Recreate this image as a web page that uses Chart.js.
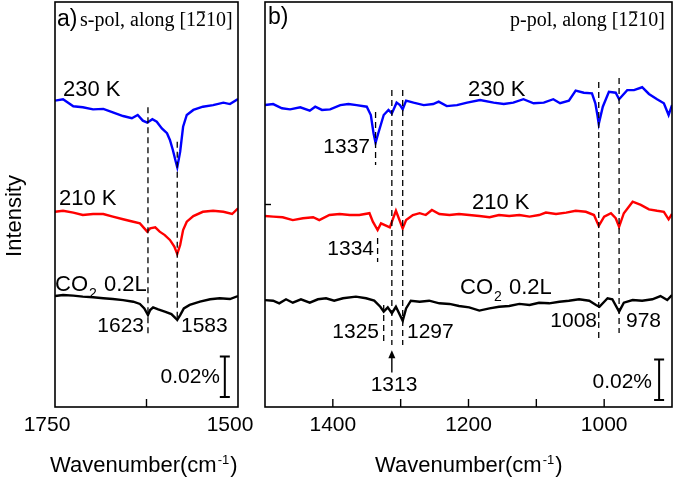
<!DOCTYPE html>
<html>
<head>
<meta charset="utf-8">
<script src="https://cdn.jsdelivr.net/npm/chart.js@4.4.0/dist/chart.umd.min.js"></script>
<style>
  html, body { margin: 0; padding: 0; background: #fff; }
  #wrap { position: relative; width: 675px; height: 480px; }
  #wrap canvas { position: absolute; left: 0; top: 0; }
</style>
</head>
<body>
<div id="wrap">
  <canvas id="chartA" width="675" height="480"></canvas>
  <canvas id="chartB" width="675" height="480"></canvas>
</div>
<script>
// intensities in units of 0.001 %, spectra already offset for stacking

// panel a) s-pol, 1750 - 1500 cm-1
const waveA230 = [1750,1739,1725,1712,1698,1684,1671,1657,1645,1637,1630,1624,1617,1611,1604,1597,1593,1589,1585,1583,1579,1575,1570,1561,1548,1534,1520,1511,1500];
const a230 = [151.3,152.0,148.5,148.0,147.0,147.2,145.5,143.7,142.6,144.2,141.4,140.4,142.1,140.9,137.6,135.2,131.9,126.9,121.1,118.4,126.1,138.4,144.2,146.7,148.3,149.1,150.3,149.6,152.1];

const waveA210 = [1750,1739,1725,1712,1698,1684,1671,1657,1643,1634,1624,1620,1613,1607,1600,1593,1587,1583,1579,1575,1570,1561,1548,1534,1520,1508,1500];
const a210 = [96.4,96.9,96.0,94.8,95.3,95.3,94.0,92.7,91.5,90.7,86.6,88.2,88.7,86.6,84.9,82.5,79.2,75.6,80.0,87.4,91.5,94.3,96.4,96.9,96.4,95.3,98.1];

const waveACO2 = [1750,1739,1725,1712,1698,1684,1671,1657,1643,1634,1628,1623,1620,1616,1609,1600,1591,1583,1579,1574,1566,1552,1538,1525,1511,1500];
const aCO2 = [54.8,55.3,55.0,54.5,54.2,53.7,53.3,52.8,52.0,50.9,48.7,45.4,47.9,49.2,48.2,47.1,45.9,43.0,45.4,48.7,50.4,52.0,53.2,53.7,53.3,54.8];

// panel b) p-pol, 1500 - 900 cm-1
const waveB230 = [1500,1488,1475,1463,1448,1434,1426,1416,1404,1389,1377,1365,1350,1344,1340,1337,1333,1325,1318,1313,1306,1301,1297,1292,1281,1266,1252,1244,1232,1217,1202,1183,1163,1148,1134,1119,1104,1089,1075,1065,1052,1042,1030,1018,1013,1010,1008,1002,993,983,978,966,956,944,934,922,912,905,900];
const b230 = [149.1,149.6,147.5,147.0,148.0,146.3,148.3,146.7,147.0,149.1,149.6,149.1,148.3,144.2,135.2,130.5,135.2,144.2,146.7,145.0,150.3,149.1,147.0,151.3,150.3,149.1,149.6,150.8,148.6,149.1,150.3,151.6,150.3,149.6,150.3,152.0,150.0,150.3,152.0,150.0,151.3,156.2,155.2,154.9,150.0,144.2,139.8,148.3,155.7,155.2,152.0,156.5,156.5,157.9,154.6,152.0,150.0,144.2,149.1];

const waveB210 = [1500,1488,1474,1459,1444,1429,1420,1405,1390,1375,1361,1346,1341,1334,1329,1316,1307,1297,1292,1282,1272,1263,1254,1243,1228,1214,1199,1184,1169,1155,1140,1125,1110,1096,1086,1071,1056,1042,1027,1015,1008,1000,990,983,978,971,958,946,934,922,912,905,900];
const b210 = [94.3,94.0,93.7,92.3,93.2,93.7,92.3,94.8,95.3,94.8,94.8,95.7,91.5,87.4,90.7,88.7,96.9,88.2,92.3,94.8,95.7,94.8,97.3,95.3,94.8,95.3,94.8,94.3,93.7,94.8,94.3,94.8,94.0,94.8,96.0,95.3,96.0,96.9,96.4,94.8,89.4,94.0,95.7,93.2,89.0,95.7,101.4,99.8,97.6,96.9,96.4,92.7,95.3];

const waveBCO2 = [1500,1488,1479,1469,1459,1447,1434,1422,1410,1398,1385,1366,1351,1339,1330,1325,1319,1313,1307,1297,1292,1285,1272,1258,1243,1228,1214,1199,1184,1169,1155,1140,1125,1110,1096,1081,1066,1052,1037,1022,1012,1007,995,988,978,971,958,944,929,917,907,900];
const bCO2 = [52.8,52.5,51.2,53.2,51.5,53.2,51.5,53.2,53.7,52.5,53.7,54.5,53.7,52.5,49.5,47.1,49.2,46.3,49.5,42.6,48.7,52.5,52.0,52.5,51.2,50.9,49.9,49.2,47.6,48.7,49.5,49.9,50.9,50.4,51.5,51.2,52.0,52.5,53.2,52.5,50.4,49.5,53.7,53.2,47.1,51.5,52.8,52.5,53.2,54.8,52.8,55.3];

// marked peaks (cm-1)
const peaksA = [1623, 1583];
const peaksB = [1337, 1334, 1325, 1313, 1297, 1008, 978];

const ticksA = [1750, 1500];
const ticksB = [1400, 1200, 1000];

const SANS = '"Liberation Sans", Arial, sans-serif';
const SERIF = '"Liberation Serif", "Times New Roman", serif';

function spectrum(waves, vals, color) {
  return {
    data: waves.map((w, i) => ({ x: w, y: vals[i] })),
    borderColor: color, borderWidth: 2.4, pointRadius: 0, tension: 0, fill: false
  };
}

function marker(w, from, to) {
  return {
    data: [{ x: w, y: from }, { x: w, y: to }],
    borderColor: '#000', borderWidth: 1.3, borderDash: [6, 4], pointRadius: 0, fill: false
  };
}

function text(ctx, s, x, y, size, align, family) {
  ctx.font = size + 'px ' + (family || SANS);
  ctx.textAlign = align || 'left';
  ctx.textBaseline = 'middle';
  ctx.fillStyle = '#000';
  ctx.fillText(s, x, y);
}

function co2Label(ctx, x, y) {
  ctx.textAlign = 'left';
  ctx.textBaseline = 'middle';
  ctx.fillStyle = '#000';
  ctx.font = '22px ' + SANS;
  ctx.fillText('CO', x, y);
  const w1 = ctx.measureText('CO').width;
  ctx.font = '14px ' + SANS;
  ctx.fillText('2', x + w1 + 1, y + 9);
  const w2 = ctx.measureText('2').width;
  ctx.font = '22px ' + SANS;
  ctx.fillText(' 0.2L', x + w1 + w2 + 2, y);
}

function xTitle(ctx, x, y) {
  ctx.textAlign = 'left';
  ctx.textBaseline = 'middle';
  ctx.fillStyle = '#000';
  ctx.font = '22px ' + SANS;
  ctx.fillText('Wavenumber(cm', x, y);
  const w1 = ctx.measureText('Wavenumber(cm').width;
  ctx.font = '13px ' + SANS;
  ctx.fillText('-1', x + w1 + 1, y - 6);
  const w2 = ctx.measureText('-1').width;
  ctx.font = '22px ' + SANS;
  ctx.fillText(')', x + w1 + w2 + 2, y);
}

function polTitle(ctx, s, x, y, align) {
  ctx.font = '20px ' + SERIF;
  const full = ctx.measureText(s).width;
  const left = align === 'right' ? x - full : x;
  text(ctx, s, left, y, 20, 'left', SERIF);
  const pre = ctx.measureText(s.slice(0, s.indexOf('[') + 2)).width;
  const w2 = ctx.measureText('2').width;
  ctx.strokeStyle = '#000';
  ctx.lineWidth = 1.3;
  ctx.beginPath();
  ctx.moveTo(left + pre + 1, y - 9);
  ctx.lineTo(left + pre + w2 - 1, y - 9);
  ctx.stroke();
}

function decor(opt) {
  return {
    id: 'decor',
    afterDraw(chart) {
      const ctx = chart.ctx;
      const ca = chart.chartArea;
      const xs = chart.scales.x;
      const ys = chart.scales.y;
      ctx.save();
      // frame
      ctx.strokeStyle = '#000';
      ctx.lineWidth = 1.6;
      ctx.strokeRect(ca.left, ca.top, ca.right - ca.left, ca.bottom - ca.top);
      // inward ticks on the bottom axis
      ctx.lineWidth = 1.4;
      opt.innerTicks.forEach(v => {
        const px = xs.getPixelForValue(v);
        ctx.beginPath();
        ctx.moveTo(px, ca.bottom);
        ctx.lineTo(px, ca.bottom - 8);
        ctx.stroke();
      });
      // 0.02 % scale bar
      const bx = xs.getPixelForValue(opt.bar.x);
      const by0 = ys.getPixelForValue(opt.bar.y0);
      const by1 = ys.getPixelForValue(opt.bar.y0 + 20);
      ctx.lineWidth = 2;
      ctx.beginPath();
      ctx.moveTo(bx, by0); ctx.lineTo(bx, by1);
      ctx.moveTo(bx - 5, by0); ctx.lineTo(bx + 5, by0);
      ctx.moveTo(bx - 5, by1); ctx.lineTo(bx + 5, by1);
      ctx.stroke();
      opt.extra(ctx, chart);
      ctx.restore();
    }
  };
}

function makeChart(id, opt) {
  return new Chart(document.getElementById(id), {
    type: 'line',
    data: { datasets: opt.datasets },
    options: {
      responsive: false,
      animation: false,
      events: [],
      layout: { padding: opt.padding },
      plugins: { legend: { display: false }, tooltip: { enabled: false } },
      scales: {
        x: {
          type: 'linear', reverse: true, min: opt.xMin, max: opt.xMax,
          grid: { display: false, drawTicks: false },
          border: { display: false },
          afterBuildTicks: a => { a.ticks = opt.ticks.map(v => ({ value: v })); },
          afterFit: a => { a.height = 73; },
          ticks: {
            font: { family: SANS, size: 21 }, color: '#000', padding: 6,
            labelOffset: opt.labelOffset, autoSkip: false, maxRotation: 0,
            callback: v => String(v)
          }
        },
        y: { display: false, min: 0, max: 200 }
      }
    },
    plugins: [decor(opt)]
  });
}

makeChart('chartA', {
  xMin: 1500, xMax: 1750, ticks: ticksA, labelOffset: -8,
  padding: { left: 55, right: 437, top: 2, bottom: 0 },
  innerTicks: [1625],
  bar: { x: 1518, y0: 5 },
  datasets: [
    marker(peaksA[0], 148, 35.6),
    marker(peaksA[1], 131, 42),
    spectrum(waveA230, a230, '#0000ff'),
    spectrum(waveA210, a210, '#ff0000'),
    spectrum(waveACO2, aCO2, '#000000')
  ],
  extra(ctx) {
    text(ctx, 'a)', 57, 20, 23);
    polTitle(ctx, 's-pol, along [1210]', 80, 21, 'left');
    text(ctx, '230 K', 63, 90, 22);
    text(ctx, '210 K', 59, 199, 22);
    co2Label(ctx, 55, 285);
    text(ctx, '1623', 144, 326, 21, 'right');
    text(ctx, '1583', 181, 326, 21, 'left');
    text(ctx, '0.02%', 220, 377, 21, 'right');
    xTitle(ctx, 50, 466);
    ctx.save();
    ctx.translate(15, 216);
    ctx.rotate(-Math.PI / 2);
    text(ctx, 'Intensity', 0, 0, 22, 'center');
    ctx.restore();
  }
});

makeChart('chartB', {
  xMin: 900, xMax: 1500, ticks: ticksB, labelOffset: 0,
  padding: { left: 265, right: 3, top: 2, bottom: 0 },
  innerTicks: [1400, 1300, 1200, 1100, 1000],
  bar: { x: 919, y0: 3.5 },
  datasets: [
    marker(peaksB[0], 145.7, 119.5),
    marker(peaksB[1], 83.5, 71.6),
    marker(peaksB[2], 50.4, 30.6),
    marker(peaksB[3], 156.5, 30.6),
    marker(peaksB[4], 156.5, 30.6),
    marker(peaksB[5], 160.5, 34.1),
    marker(peaksB[6], 162.5, 36.5),
    spectrum(waveB230, b230, '#0000ff'),
    spectrum(waveB210, b210, '#ff0000'),
    spectrum(waveBCO2, bCO2, '#000000')
  ],
  extra(ctx, chart) {
    const xs = chart.scales.x, ys = chart.scales.y, ca = chart.chartArea;
    text(ctx, 'b)', 268, 18, 23);
    polTitle(ctx, 'p-pol, along [1210]', 665, 21, 'right');
    text(ctx, '230 K', 468, 90, 22);
    text(ctx, '210 K', 472, 203, 22);
    co2Label(ctx, 460, 288);
    text(ctx, '1337', 370, 147, 21, 'right');
    text(ctx, '1334', 374, 249, 21, 'right');
    text(ctx, '1325', 379, 332, 21, 'right');
    text(ctx, '1297', 407, 332, 21, 'left');
    text(ctx, '1313', 394, 385, 21, 'center');
    text(ctx, '1008', 597, 321, 21, 'right');
    text(ctx, '978', 626, 321, 21, 'left');
    text(ctx, '0.02%', 652, 382, 21, 'right');
    xTitle(ctx, 375, 466);
    // small left tick
    const ty = ys.getPixelForValue(100);
    ctx.strokeStyle = '#000';
    ctx.lineWidth = 1.4;
    ctx.beginPath();
    ctx.moveTo(ca.left, ty); ctx.lineTo(ca.left + 6, ty);
    ctx.stroke();
    // arrow pointing at 1313
    const ax = xs.getPixelForValue(peaksB[3]);
    const tip = ys.getPixelForValue(28);
    const tail = ys.getPixelForValue(17);
    ctx.lineWidth = 1.4;
    ctx.beginPath();
    ctx.moveTo(ax, tail); ctx.lineTo(ax, tip + 5);
    ctx.stroke();
    ctx.fillStyle = '#000';
    ctx.beginPath();
    ctx.moveTo(ax, tip); ctx.lineTo(ax - 3.5, tip + 8); ctx.lineTo(ax + 3.5, tip + 8);
    ctx.closePath();
    ctx.fill();
  }
});
</script>
</body>
</html>
